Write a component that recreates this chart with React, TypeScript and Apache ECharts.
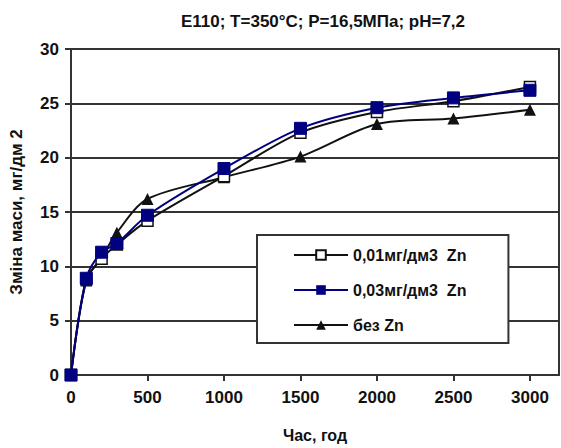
import React, { useEffect, useRef } from "react";
import * as echarts from "echarts";

const hours = [0, 100, 200, 300, 500, 1000, 1500, 2000, 2500, 3000];
const zn001 = [0, 8.8, 10.7, 12.0, 14.2, 18.3, 22.3, 24.2, 25.2, 26.5];
const zn003 = [0, 8.9, 11.3, 12.1, 14.7, 19.0, 22.7, 24.6, 25.5, 26.2];
const noZn = [0, 8.7, 10.8, 13.1, 16.2, 18.2, 20.1, 23.1, 23.6, 24.4];
const xTicks = [0, 500, 1000, 1500, 2000, 2500, 3000];
const seriesNames = ["0,01мг/дм3  Zn", "0,03мг/дм3  Zn", "без Zn"];
const titleText = "E110; T=350°C; P=16,5МПа; pH=7,2";
const xName = "Час, год";
const yName = "Зміна маси, мг/дм 2";

const pair = (ys: number[]) => hours.map((h, i) => [h, ys[i]]);

export default function App() {
  const ref = useRef<HTMLDivElement>(null);
  useEffect(() => {
    if (!ref.current) return;
    const chart = echarts.init(ref.current, null, { renderer: "svg" });
    const font = "Liberation Sans, Arial, sans-serif";
    chart.setOption({
      animation: false,
      backgroundColor: "#fff",
      title: {
        text: titleText,
        left: 318,
        textAlign: "center",
        top: 8,
        textStyle: { fontFamily: font, fontSize: 17, fontWeight: "bold", color: "#111" },
      },
      grid: {
        left: 71,
        top: 49,
        right: 2,
        bottom: 72,
        show: true,
        borderColor: "#333",
        borderWidth: 2,
        backgroundColor: "transparent",
      },
      legend: {
        orient: "vertical",
        left: 257,
        top: 235,
        itemWidth: 54,
        itemHeight: 12,
        itemGap: 19,
        padding: [12, 42, 10, 36],
        backgroundColor: "#fff",
        borderColor: "#333",
        borderWidth: 2,
        borderRadius: 0,
        textStyle: { fontFamily: font, fontSize: 16, fontWeight: "bold", color: "#111" },
        data: seriesNames,
      },
      xAxis: {
        type: "value",
        min: 0,
        max: 3190,
        name: xName,
        nameLocation: "middle",
        nameGap: 52,
        nameTextStyle: { fontFamily: font, fontSize: 16, fontWeight: "bold", color: "#111" },
        axisLine: { lineStyle: { color: "#333", width: 2 } },
        axisTick: { show: true, length: 6, lineStyle: { color: "#333", width: 2 }, customValues: xTicks },
        axisLabel: {
          customValues: xTicks,
          formatter: (v: number) => String(v),
          margin: 14,
          fontFamily: font,
          fontSize: 17,
          fontWeight: "bold",
          color: "#111",
        },
        splitLine: { show: false },
      },
      yAxis: {
        type: "value",
        min: 0,
        max: 30,
        interval: 5,
        name: yName,
        nameLocation: "middle",
        nameGap: 46,
        nameTextStyle: { fontFamily: font, fontSize: 17, fontWeight: "bold", color: "#111" },
        axisLine: { show: true, lineStyle: { color: "#333", width: 2 } },
        axisTick: { show: true, length: 6, lineStyle: { color: "#333", width: 2 } },
        axisLabel: { margin: 12, fontFamily: font, fontSize: 17, fontWeight: "bold", color: "#111" },
        splitLine: { show: true, lineStyle: { color: "#333", width: 2 } },
      },
      series: [
        {
          name: seriesNames[0],
          type: "line",
          smooth: 0.3,
          data: pair(zn001),
          symbol: "rect",
          symbolSize: 11,
          lineStyle: { color: "#111", width: 2 },
          itemStyle: { color: "#fff", borderColor: "#111", borderWidth: 1.5 },
          z: 3,
        },
        {
          name: seriesNames[1],
          type: "line",
          smooth: 0.3,
          data: pair(zn003),
          symbol: "rect",
          symbolSize: 12,
          lineStyle: { color: "#000080", width: 2 },
          itemStyle: { color: "#000080", borderColor: "#000080" },
          z: 4,
        },
        {
          name: seriesNames[2],
          type: "line",
          smooth: 0.3,
          data: pair(noZn),
          symbol: "triangle",
          symbolSize: 12,
          lineStyle: { color: "#111", width: 2 },
          itemStyle: { color: "#111" },
          z: 2,
        },
      ],
    });
    return () => chart.dispose();
  }, []);
  return (
    <div
      ref={ref}
      style={{ position: "absolute", left: 0, top: 0, width: 561, height: 448 }}
    />
  );
}
